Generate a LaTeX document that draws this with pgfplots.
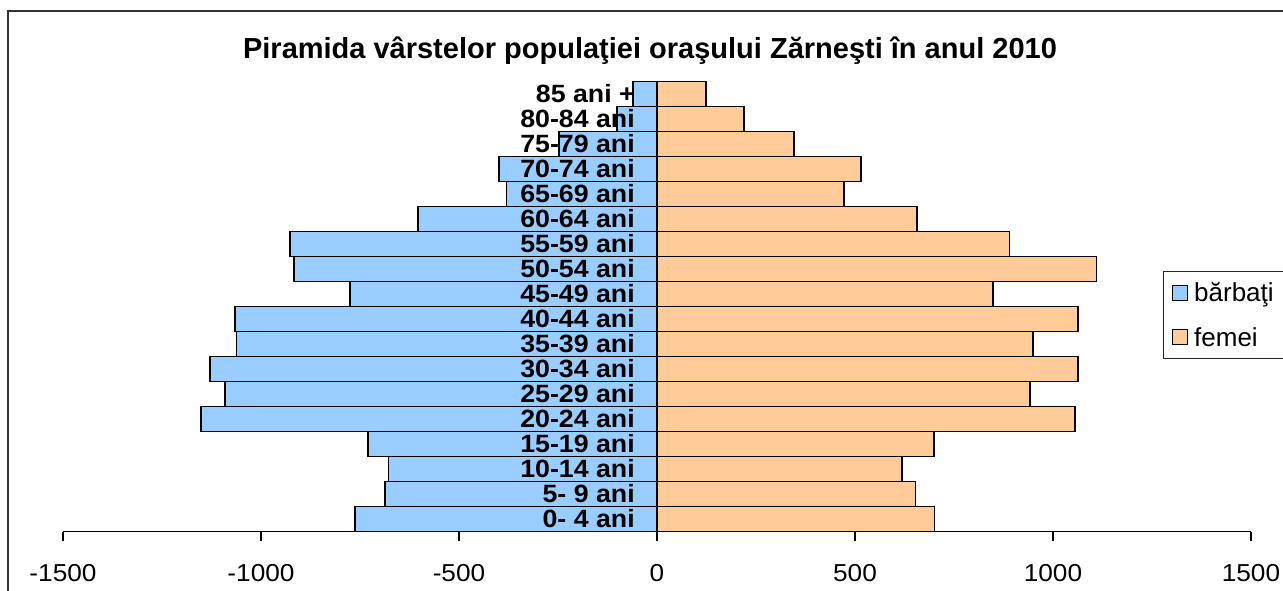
\documentclass[border=0pt]{standalone}
\usepackage{pgfplots}
\pgfplotsset{compat=1.18}
\usepackage{fontspec}
\setmainfont{Liberation Sans}
\newfontfamily\widefont[FakeStretch=1.07]{Liberation Sans}
\definecolor{barb}{RGB}{153,204,255}
\definecolor{fem}{RGB}{255,204,153}

\begin{document}
\begin{tikzpicture}[x=1pt,y=1pt]
\useasboundingbox (0,0) rectangle (1283,590);
\fill[white] (0,0) rectangle (1283,590);
\draw[line width=2.2pt, black!80] (8,-20) -- (8,579) -- (1300,579);
\node[anchor=base, font=\fontsize{29}{30}\selectfont\bfseries, inner sep=0pt]
  at (650,531.7) {Piramida vârstelor populaţiei oraşului Zărneşti în anul 2010};
\begin{axis}[
    at={(63pt,58.5pt)}, anchor=south west,
    scale only axis, width=1188pt, height=450pt,
    xmin=-1500, xmax=1500, ymin=-0.5, ymax=17.5,
    axis x line=bottom, axis y line=center,
    y axis line style={draw=none},
    x axis line style={line width=1.2pt, -},
    axis on top,
    xbar, bar width=1, bar shift=0pt,
    xtick={-1500,-1000,-500,0,500,1000,1500},
    xticklabels={-1500,-1000,-500,0,500,1000,1500},
    x tick label style={font=\widefont\fontsize{24.5}{25}\selectfont, anchor=base, inner sep=0pt, yshift=-41pt},
    xtick align=outside, major tick length=9pt,
    xtick style={black, line width=1.2pt},
    ytick={0,...,17},
    yticklabels={0- 4 ani,5- 9 ani,10-14 ani,15-19 ani,20-24 ani,25-29 ani,30-34 ani,35-39 ani,40-44 ani,45-49 ani,50-54 ani,55-59 ani,60-64 ani,65-69 ani,70-74 ani,75-79 ani,80-84 ani,85 ani +},
    ytick style={draw=none},
    y tick label style={font=\widefont\bfseries\fontsize{25}{25}\selectfont, anchor=east, inner sep=0pt, xshift=-13pt},
    legend image code/.code={\draw[#1, line width=1.2pt] (0pt,-7.5pt) rectangle (15pt,7.5pt); \path (19pt,0pt);},
    legend style={at={(0.926,0.579)}, anchor=north west, draw=black!85, line width=1.2pt,
      font=\fontsize{26}{26}\selectfont, inner xsep=8pt, inner ysep=9pt, row sep=20pt},
    legend cell align=left,
]
\addplot[fill=barb, draw=black, line width=1.8pt] coordinates {
    (-762,0) (-686,1) (-678,2) (-729,3) (-1152,4) (-1090,5) (-1128,6) (-1062,7) (-1066,8)
    (-776,9) (-917,10) (-927,11) (-604,12) (-380,13) (-398,14) (-247,15) (-102,16) (-60,17)
};
\addplot[fill=fem, draw=black, line width=1.8pt] coordinates {
    (701,0) (653,1) (619,2) (699,3) (1056,4) (942,5) (1064,6) (950,7) (1064,8)
    (848,9) (1110,10) (890,11) (656,12) (472,13) (516,14) (346,15) (220,16) (123,17)
};
\legend{bărbaţi,femei}
\end{axis}
\end{tikzpicture}
\end{document}
